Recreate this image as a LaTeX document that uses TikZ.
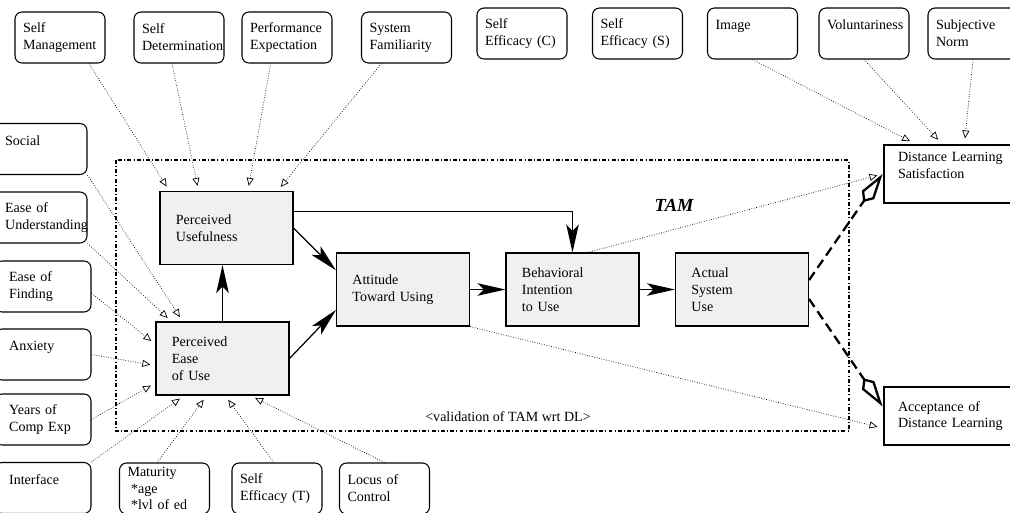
\documentclass[tikz,border=0pt]{standalone}
\usepackage{fontspec}
\setmainfont{Liberation Serif}
\usetikzlibrary{arrows.meta}
\hyphenpenalty=10000

\definecolor{boxgray}{RGB}{240,240,240}
\tikzstyle{rbox}=[draw, rounded corners=4pt, line width=0.6pt, minimum width=1.8cm, minimum height=1.02cm, text width=1.48cm, inner xsep=4.5pt, inner ysep=1pt, align=left, font=\fontsize{8}{9.6}\selectfont]
\tikzstyle{lbox}=[rbox, minimum width=1.92cm, text width=1.355cm, inner xsep=8pt]
\tikzstyle{gbox}=[draw, fill=boxgray, line width=0.6pt, minimum width=2.66cm, minimum height=1.46cm, text width=2.025cm, inner xsep=9pt, align=left, font=\fontsize{8}{9.6}\selectfont]
\tikzstyle{obox}=[draw, line width=1.6pt, minimum width=2.68cm, minimum height=1.16cm, text width=2.12cm, inner xsep=8pt, align=left, font=\fontsize{8}{9.6}\selectfont]
\tikzstyle{solarr}=[line width=0.7pt, -{Stealth[length=0.56cm,width=0.25cm,inset=0.13cm]}]
\tikzstyle{diaarr}=[line width=1.3pt, dash pattern=on 5.5pt off 3pt, -{Kite[open,length=0.68cm,width=0.3cm,inset=0.17cm]}]
\tikzstyle{dotarr}=[line width=0.4pt, densely dotted, shorten >=3pt, -{Triangle[open,length=4.5pt,width=4pt]}]
\tikzstyle{tamframe}=[line width=0.6pt, dash pattern=on 2.2pt off 1.3pt on 0.5pt off 1.3pt]

\begin{document}
\begin{tikzpicture}[x=0.02cm,y=-0.02cm]
        \path[use as bounding box, clip] (0,0) rectangle (1010,512);
        % outside factors
        \draw (60,37.5) node[rbox](selfmgmt){Self\\Management};
        \draw (179,37.5) node[rbox](selfdet){Self\\Determination};
        \draw (287,37.5) node[rbox](perfexp){Performance\\Expectation};
        \draw (406.5,37.5) node[rbox](sysfam){System\\Familiarity};
        \draw (522,33.5) node[rbox](effc){Self\\Efficacy (C)};
        \draw (637.5,33.5) node[rbox](effs){Self\\Efficacy (S)};
        \draw (752.5,33.5) node[rbox](image){Image\\~};
        \draw (864,33.5) node[rbox](volunt){Voluntariness\\~};
        \draw (973,33.5) node[rbox](subjnorm){Subjective\\Norm};
        \draw (39,149) node[lbox](social){Social\\~};
        \draw (39,217.5) node[lbox](easeund){Ease of\\Understanding};
        \draw (43,286.5) node[lbox](easefind){Ease of\\Finding};
        \draw (43,354.5) node[lbox](anxiety){Anxiety\\~};
        \draw (43,419.5) node[lbox](compexp){Years of\\Comp Exp};
        \draw (43,488) node[lbox](interface){Interface\\~};
        \draw (164.5,488.5) node[rbox](maturity){Maturity\\\hspace{2pt}*age\\\hspace{2pt}*lvl of ed};
        \draw (277,488.5) node[rbox](efft){Self\\Efficacy (T)};
        \draw (384.5,488.5) node[rbox](locus){Locus of\\Control};
        %
        \draw[tamframe] (116,160) rectangle (849,431);
        \draw (508,417) node[font=\fontsize{8}{9.6}\selectfont](valid){<validation of TAM wrt DL>};
        \draw (674,205) node[font=\fontsize{10.5}{12}\selectfont\bfseries\itshape](tam){TAM};
        % TAM
        \draw (226.5,228) node[gbox](pu){Perceived\\Usefulness};
        \draw (222.5,358.5) node[gbox](peou){Perceived\\Ease\\of Use};
        \draw (403,289.5) node[gbox](att){Attitude\\Toward Using};
        \draw (572.5,289.5) node[gbox](bi){Behavioral\\Intention\\to Use};
        \draw (742,289.5) node[gbox](asu){Actual\\System\\Use};
        \draw (951,174) node[obox](dls){Distance Learning\\Satisfaction\\~};
        \draw (951,416) node[obox](adl){Acceptance of\\Distance Learning};
        %
        \path
            (peou.north)    edge[solarr]    (peou.north |- pu.south)
            (pu.east)       edge[solarr]    (att.164)
            (peou.east)     edge[solarr]    (att.197)
            (att.east)      edge[solarr]    (bi.west)
            (bi.east)       edge[solarr]    (asu.west)
            (asu.8)         edge[diaarr]    (dls.west)
            (asu.352)       edge[diaarr]    (adl.172)
        ;
        \draw[solarr] (pu.14) -| (bi.north);
        %
        \path
            (selfmgmt.318)      edge[dotarr]    (pu.147)
            (selfdet.255)       edge[dotarr]    (pu.127)
            (perfexp.238)       edge[dotarr]    (pu.60)
            (sysfam.226)        edge[dotarr]    (pu.36)
            (social.south east) edge[dotarr]    (peou.137)
            (easeund.south east) edge[dotarr]   (peou.144)
            (easefind.352)      edge[dotarr]    (peou.168)
            (anxiety.east)      edge[dotarr]    (peou.186)
            (compexp.east)      edge[dotarr]    (peou.200)
            (interface.north east) edge[dotarr] (peou.224)
            (maturity.106)      edge[dotarr]    (peou.247)
            (efft.97)           edge[dotarr]    (peou.274)
            (locus.north)       edge[dotarr]    (peou.307)
            (image.south)       edge[dotarr]    (dls.140)
            (volunt.south)      edge[dotarr]    (dls.107)
            (subjnorm.south)    edge[dotarr]    (dls.66)
            (bi.68)             edge[dotarr]    (dls.west)
            (att.south east)    edge[dotarr]    (adl.190)
        ;
        %;
\end{tikzpicture}
\end{document}
